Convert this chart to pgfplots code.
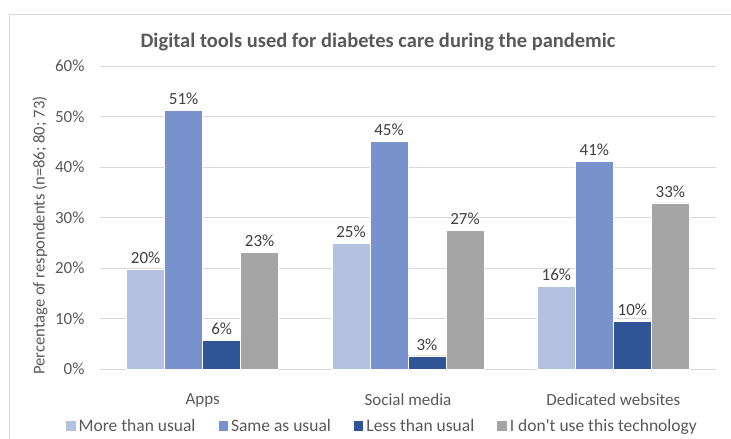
\documentclass[border=0pt]{standalone}
\usepackage{fontspec}
\setmainfont{Carlito}[Ligatures=TeXOff]
\usepackage{pgfplots}
\pgfplotsset{compat=1.18}
\definecolor{c1}{HTML}{B4C1E1}
\definecolor{c2}{HTML}{7892CE}
\definecolor{c3}{HTML}{2F5597}
\definecolor{c4}{HTML}{A5A5A5}
\definecolor{txt}{HTML}{595959}
\definecolor{lbl}{HTML}{404040}
\definecolor{gridc}{HTML}{D9D9D9}
\begin{document}
\begin{tikzpicture}
\useasboundingbox (0pt,0pt) rectangle (731pt,439pt);
\draw[gridc, line width=0.8pt] (9pt,0pt) -- (9pt,425pt) -- (731pt,425pt);
\node[font=\fontsize{20.5}{24}\selectfont\bfseries, text=txt] at (378pt,397pt) {Digital tools used for diabetes care during the pandemic};
\begin{axis}[
  at={(100pt,70pt)}, anchor=south west,
  scale only axis, width=616pt, height=303pt,
  xmin=-0.5, xmax=2.5, ymin=0, ymax=60,
  ybar=0pt, bar width=38pt,
  axis line style={draw=none}, tick style={draw=none},
  ytick={0,10,...,60},
  yticklabel={\pgfmathprintnumber{\tick}\%},
  ymajorgrids, grid style={gridc, line width=0.8pt},
  xtick={0,1,2}, xticklabels={Apps, Social media, Dedicated websites},
  /pgf/number format/assume math mode=true,
  ticklabel style={font=\fontsize{17}{20}\selectfont, text=txt},
  xticklabel style={yshift=-17pt},
  yticklabel style={xshift=-12pt},
  ylabel={Percentage of respondents (n=86; 80; 73)},
  ylabel style={font=\fontsize{16.6}{20}\selectfont, text=txt, at={(axis description cs:-0.0974,0.44)}, anchor=center},
  nodes near coords={\pgfmathprintnumber[fixed,precision=0]{\pgfplotspointmeta}\%},
  nodes near coords style={font=\fontsize{17}{20}\selectfont, text=lbl, yshift=2pt},
  every axis plot/.append style={draw=white, line width=0.6pt},
  legend columns=4,
  legend style={draw=none, fill=none, at={(rel axis cs:0.5,0)}, anchor=center, yshift=-57pt, xshift=-25.5pt, font=\fontsize{17.5}{20}\selectfont, text=txt,
    /tikz/every even column/.append style={column sep=21pt},
    /tikz/every odd column/.append style={column sep=1pt}},
  legend image code/.code={\fill[#1, draw=none] (0pt,-4.5pt) rectangle (9.5pt,5pt);},
]
\addplot[fill=c1] coordinates {(0,19.7) (1,24.9) (2,16.4)};
\addplot[fill=c2] coordinates {(0,51.2) (1,45.0) (2,41.1)};
\addplot[fill=c3] coordinates {(0,5.6) (1,2.6) (2,9.5)};
\addplot[fill=c4] coordinates {(0,23.1) (1,27.4) (2,32.9)};
\legend{More than usual, Same as usual, Less than usual, I don't use this technology}
\end{axis}
\end{tikzpicture}
\end{document}
